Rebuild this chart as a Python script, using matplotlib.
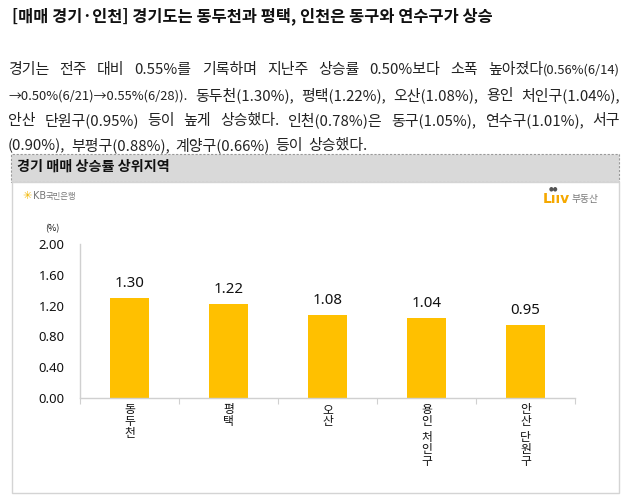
import matplotlib
matplotlib.use("Agg")
import matplotlib.pyplot as plt
from matplotlib.patches import Rectangle

plt.rcParams['font.family'] = ['Noto Sans CJK KR', 'DejaVu Sans']

# ---------------- data ----------------
title = "[매매 경기·인천] 경기도는 동두천과 평택, 인천은 동구와 연수구가 상승"
chart_title = "경기 매매 상승률 상위지역"
categories = ["동두천", "평택", "오산", "용인 처인구", "안산 단원구"]
values = [1.30, 1.22, 1.08, 1.04, 0.95]
yticks = [0.00, 0.40, 0.80, 1.20, 1.60, 2.00]
unit = "(%)"

# paragraph lines: list of runs (text, small?)
para_lines = [
    [("경기는 전주 대비 0.55%를 기록하며 지난주 상승률 0.50%보다 소폭 높아졌다", False), ("(0.56%(6/14)", True)],
    [("→0.50%(6/21)→0.55%(6/28)).", True), (" 동두천(1.30%), 평택(1.22%), 오산(1.08%), 용인 처인구(1.04%),", False)],
    [("안산 단원구(0.95%) 등이 높게 상승했다. 인천(0.78%)은 동구(1.05%), 연수구(1.01%), 서구", False)],
    [("(0.90%), 부평구(0.88%), 계양구(0.66%) 등이 상승했다.", False)],
]

W, H = 628, 498
fig = plt.figure(figsize=(W / 100, H / 100), dpi=100)
fig.patch.set_facecolor("white")

def fx(px):
    return px / W

def fy(py):
    return 1 - py / H

# ---------------- title ----------------
fig.text(fx(12), fy(16), title, fontsize=11.8, fontweight="bold", va="center", ha="left", color="#111111")

# ---------------- paragraph (justified) ----------------
BIG, SMALL = 10.8, 9.3
left_px, right_px = 8, 620
line_y = [69, 95, 120, 145]
fig.canvas.draw()
renderer = fig.canvas.get_renderer()

for li, runs in enumerate(para_lines):
    words = [[]]
    for txt, small in runs:
        parts = txt.split(" ")
        for pi, p in enumerate(parts):
            if pi > 0:
                words.append([])
            if p:
                words[-1].append((p, small))
    words = [w for w in words if w]
    objs = []
    widths = []
    for w in words:
        wo = []
        ww = 0
        for txt, small in w:
            t = fig.text(0, fy(line_y[li] + 5), txt, fontsize=SMALL if small else BIG,
                         va="baseline", ha="left", color="#222222")
            bb = t.get_window_extent(renderer)
            wo.append((t, bb.width))
            ww += bb.width
        objs.append(wo)
        widths.append(ww)
    total = sum(widths)
    avail = right_px - left_px
    justify = li < len(para_lines) - 1
    if justify and len(words) > 1:
        gap = (avail - total) / (len(words) - 1)
    else:
        gap = 5.5
    x = left_px
    for wo, ww in zip(objs, widths):
        xx = x
        for t, wdt in wo:
            t.set_x(fx(xx))
            xx += wdt
        x += ww + gap

# ---------------- header box ----------------
hdr = Rectangle((fx(11), fy(182)), fx(619) - fx(11), fy(154) - fy(182), transform=fig.transFigure,
                facecolor="#d9d9d9", edgecolor="#9a9a9a", lw=0.8, linestyle=(0, (2, 1.5)), zorder=0)
fig.patches.append(hdr)
fig.text(fx(17), fy(167), chart_title, fontsize=10.2, fontweight="bold", va="center", ha="left", color="#111111")

# chart box
box = Rectangle((fx(12), fy(493)), fx(619) - fx(12), fy(182) - fy(493), transform=fig.transFigure,
                facecolor="white", edgecolor="#d4d4d4", lw=1, zorder=0)
fig.patches.append(box)

# logos
fig.text(fx(22), fy(196), "✳", fontsize=8, color="#F2B705", va="center", ha="left", family="DejaVu Sans")
fig.text(fx(33), fy(196), "KB", fontsize=7, color="#777777", va="center", ha="left", family="DejaVu Sans")
fig.text(fx(46), fy(196), "국민은행", fontsize=6, color="#777777", va="center", ha="left")
fig.text(fx(543), fy(199), "Lııv", fontsize=10, fontweight="bold", color="#F5A800", va="center", ha="left",
         family="DejaVu Sans")
fig.text(fx(549), fy(189), "●●", fontsize=4, color="#555555", va="center", ha="left", family="DejaVu Sans")
fig.text(fx(571), fy(199), "부동산", fontsize=7, color="#777777", va="center", ha="left")

# ---------------- chart ----------------
ax = fig.add_axes([fx(80), fy(398), fx(575) - fx(80), fy(244) - fy(398)])
ax.set_zorder(3)
ax.set_facecolor("none")
xpos = list(range(len(categories)))
bars = ax.bar(xpos, values, width=0.4, color="#FFC000", zorder=2)
ax.set_xlim(-0.5, len(categories) - 0.5)
ax.set_ylim(0, 2.0)
ax.set_yticks(yticks)
ax.set_yticklabels([f"{v:.2f}" for v in yticks], fontsize=9.4, family=["Noto Sans", "DejaVu Sans"], color="#111111")
ax.tick_params(axis="y", length=0, pad=11)
ax.set_xticks([i - 0.5 for i in range(len(categories) + 1)])
ax.set_xticklabels([])
ax.tick_params(axis="x", length=4, color="#d0d0d0", direction="out")
for s in ["top", "right"]:
    ax.spines[s].set_visible(False)
for s in ["left", "bottom"]:
    ax.spines[s].set_color("#d0d0d0")
    ax.spines[s].set_linewidth(1)

for b, v in zip(bars, values):
    ax.annotate(f"{v:.2f}", (b.get_x() + b.get_width() / 2, v), xytext=(0, 5), textcoords="offset points",
                ha="center", va="bottom", fontsize=10.8, family=["Noto Sans", "DejaVu Sans"], color="#111111")

# stacked vertical category labels
step = 12 * 0.72
for i, lab in enumerate(categories):
    off = -12 * 0.72
    for ch in lab:
        if ch == " ":
            off -= 3 * 0.72
            continue
        ax.annotate(ch, (i, 0), xycoords=ax.get_xaxis_transform(), xytext=(0, off), textcoords="offset points",
                    ha="center", va="center", fontsize=8.5, color="#111111")
        off -= step

fig.text(fx(52), fy(229), unit, fontsize=6.5, ha="center", va="center", color="#111111")

fig.savefig("out.png", dpi=100)
